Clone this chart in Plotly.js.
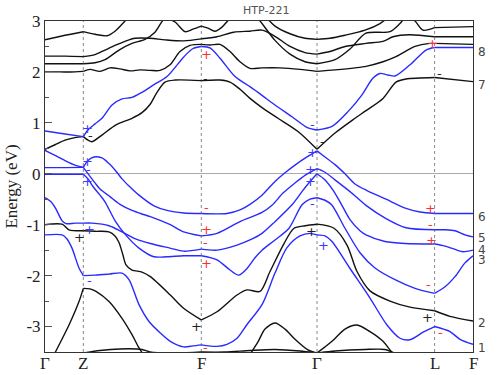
<!DOCTYPE html>
<html>
<head>
<meta charset="utf-8">
<script src="https://cdn.plot.ly/plotly-3.0.1.min.js"></script>
<style>
  html, body { margin: 0; padding: 0; background: #fff; }
  #chart { width: 500px; height: 375px; }
</style>
</head>
<body>
<div id="chart"></div>
<script>
// high symmetry points along the k path
const K_SYM = [0, 0.383, 1.563, 2.72, 3.896, 4.28];
const K_LABELS = ['Γ', 'Z', 'F', 'Γ', 'L', 'F'];
const Y_TICKS = [-3, -2, -1, 0, 1, 2, 3];

// conduction bands
const c7K = [0, 0.1, 0.2, 0.3, 0.383, 0.43, 0.47, 0.57, 0.71, 0.87, 0.97, 1.05, 1.12, 1.2, 1.3, 1.563, 1.75, 1.85, 1.95, 2.05, 2.17, 2.33, 2.53, 2.72, 2.9, 3.1, 3.21, 3.38, 3.51, 3.61, 3.896, 4.28];
const c7E = [0.48, 0.57, 0.66, 0.71, 0.73, 0.66, 0.63, 0.76, 0.96, 1.09, 1.2, 1.36, 1.6, 1.8, 1.84, 1.83, 1.84, 1.8, 1.66, 1.48, 1.3, 1.09, 0.83, 0.48, 0.8, 1.09, 1.24, 1.48, 1.8, 1.86, 1.89, 1.81];

const c8K = [0, 0.2, 0.383, 0.43, 0.5, 0.57, 0.67, 0.77, 0.87, 0.97, 1.09, 1.22, 1.39, 1.48, 1.563, 1.65, 1.75, 1.9, 2.05, 2.17, 2.3, 2.47, 2.63, 2.72, 2.87, 3.03, 3.17, 3.28, 3.35, 3.43, 3.5, 3.65, 3.81, 3.896, 4.28];
const c8E = [0.84, 0.78, 0.73, 0.86, 0.98, 1.09, 1.35, 1.47, 1.5, 1.6, 1.75, 1.91, 2.3, 2.46, 2.5, 2.47, 2.27, 1.91, 1.71, 1.54, 1.35, 1.12, 0.9, 0.86, 0.93, 1.22, 1.55, 1.88, 1.97, 1.94, 1.92, 2.14, 2.43, 2.48, 2.48];

const u1K = [0, 0.2, 0.383, 0.5, 0.62, 0.7, 0.8, 0.9];
const u1E = [2.63, 2.72, 2.79, 2.74, 2.71, 2.8, 3.0, 3.2];

const u2K = [0, 0.2, 0.383, 0.5, 0.6, 0.7, 0.8, 0.9, 1.05, 1.2, 1.386, 1.563, 1.72, 1.887, 2.05, 2.17, 2.3, 2.45, 2.6, 2.72, 2.85, 3.0, 3.21, 3.38, 3.48, 3.646, 3.896, 4.28];
const u2E = [2.31, 2.31, 2.3, 2.34, 2.43, 2.52, 2.6, 2.66, 2.66, 2.63, 2.61, 2.65, 2.69, 2.78, 2.8, 2.82, 2.7, 2.5, 2.38, 2.35, 2.4, 2.5, 2.56, 2.6, 2.69, 2.73, 2.69, 2.69];

const u3K = [0, 0.2, 0.383, 0.5, 0.6, 0.74, 0.87, 1.0, 1.1, 1.2, 1.3, 1.4, 1.48, 1.563, 1.63, 1.7, 1.77, 1.85, 1.95, 2.05, 2.13, 2.3, 2.45, 2.6, 2.72, 2.9, 3.05, 3.21, 3.45, 3.55, 3.62, 3.7, 3.78, 3.896, 4.28];
const u3E = [2.16, 2.16, 2.16, 2.18, 2.24, 2.43, 2.56, 2.64, 2.78, 3.05, 2.98, 2.79, 2.84, 2.9, 2.86, 2.8, 2.88, 3.05, 3.2, 3.2, 3.05, 2.62, 2.35, 2.2, 2.16, 2.24, 2.45, 2.76, 2.79, 2.95, 3.1, 3.0, 2.82, 2.87, 2.89];

const u4K = [0, 0.15, 0.3, 0.383, 0.45, 0.55, 0.65, 0.75, 0.85, 0.95, 1.05, 1.15, 1.25, 1.35, 1.45, 1.563, 1.65, 1.75, 1.85, 1.95, 2.05, 2.17, 2.35, 2.55, 2.72, 2.9, 3.1, 3.21, 3.38, 3.51, 3.7, 3.846, 3.896, 4.28];
const u4E = [2.0, 2.0, 2.0, 2.01, 2.05, 2.01, 2.08, 2.06, 2.02, 2.04, 2.03, 2.03, 2.14, 2.4, 2.52, 2.54, 2.53, 2.54, 2.4, 2.2, 2.07, 2.08, 2.08, 2.05, 2.01, 2.04, 2.08, 2.11, 2.2, 2.3, 2.5, 2.56, 2.56, 2.54];

const u5K = [2.2, 2.3, 2.45, 2.6, 2.72, 2.85, 3.0, 3.2, 3.35, 3.45];
const u5E = [3.1, 2.9, 2.75, 2.66, 2.64, 2.66, 2.72, 2.82, 2.95, 3.1];

// valence bands
const vAK = [0, 0.2, 0.383, 0.43, 0.49, 0.57, 0.64, 0.71, 0.77, 0.84, 0.94, 1.09, 1.22, 1.386, 1.563, 1.82, 1.95, 2.05, 2.17, 2.3, 2.4, 2.5, 2.62, 2.72, 2.8, 2.9, 3.0, 3.1, 3.22, 3.41, 3.61, 3.75, 3.896, 4.1, 4.28];
const vAE = [0.12, 0.12, 0.125, 0.26, 0.33, 0.31, 0.2, 0.05, -0.1, -0.24, -0.42, -0.63, -0.72, -0.77, -0.78, -0.78, -0.71, -0.6, -0.42, -0.15, 0.02, 0.17, 0.33, 0.45, 0.33, 0.18, 0.0, -0.2, -0.33, -0.5, -0.68, -0.75, -0.78, -0.78, -0.78];

const vBK = [0, 0.1, 0.2, 0.3, 0.383, 0.45, 0.5, 0.55, 0.65, 0.75, 0.87, 0.97, 1.053, 1.253, 1.386, 1.563, 1.72, 1.95, 2.17, 2.27, 2.38, 2.5, 2.6, 2.72, 2.8, 2.9, 3.05, 3.21, 3.41, 3.61, 3.896, 4.0, 4.1, 4.2, 4.28];
const vBE = [0.46, 0.36, 0.26, 0.17, 0.125, -0.05, -0.18, -0.3, -0.45, -0.6, -0.72, -0.79, -0.84, -1.0, -1.14, -1.22, -1.17, -0.94, -0.76, -0.62, -0.38, -0.18, -0.03, 0.1, 0.03, -0.12, -0.35, -0.62, -0.88, -1.06, -1.1, -1.1, -1.12, -1.2, -1.24];

const vCK = [0, 0.2, 0.383, 0.43, 0.48, 0.55, 0.6, 0.706, 0.806, 0.94, 1.09, 1.22, 1.386, 1.563, 1.72, 1.85, 1.937, 2.02, 2.1, 2.17, 2.3, 2.44, 2.57, 2.65, 2.72, 2.8, 2.866, 3.0, 3.15, 3.3, 3.5, 3.7, 3.896, 4.0, 4.1, 4.2, 4.28];
const vCE = [-0.01, -0.01, -0.01, -0.1, -0.25, -0.42, -0.55, -0.94, -1.2, -1.46, -1.63, -1.63, -1.61, -1.61, -1.69, -1.89, -1.99, -1.86, -1.65, -1.5, -1.3, -1.07, -0.61, -0.5, -0.47, -0.52, -0.61, -1.07, -1.55, -1.85, -2.08, -2.25, -2.35, -2.22, -2.02, -1.75, -1.61];

const vDK = [0, 0.06, 0.106, 0.17, 0.21, 0.3, 0.383, 0.47, 0.64, 0.77, 0.906, 1.053, 1.25, 1.386, 1.563, 1.72, 1.92, 2.05, 2.17, 2.3, 2.47, 2.57, 2.63, 2.72, 2.8, 2.88, 2.95, 3.05, 3.15, 3.21, 3.4, 3.6, 3.896, 4.0, 4.12, 4.18, 4.28];
const vDE = [-0.47, -0.55, -0.68, -0.92, -0.98, -0.97, -0.97, -0.97, -1.02, -1.14, -1.28, -1.37, -1.46, -1.52, -1.48, -1.5, -1.4, -1.3, -1.17, -0.94, -0.61, -0.35, -0.2, 0.0, -0.12, -0.32, -0.55, -0.9, -1.12, -1.2, -1.33, -1.37, -1.38, -1.42, -1.5, -1.53, -1.5];

const vEK = [0, 0.17, 0.22, 0.27, 0.34, 0.383, 0.5, 0.64, 0.77, 0.84, 0.94, 1.04, 1.15, 1.253, 1.386, 1.48, 1.563, 1.72, 1.82, 1.92, 2.02, 2.17, 2.3, 2.42, 2.55, 2.65, 2.72, 2.8, 2.87, 3.05, 3.25, 3.42, 3.55, 3.65, 3.79, 3.896, 4.05, 4.15, 4.28];
const vEE = [-1.2, -1.2, -1.28, -1.46, -1.85, -2.0, -1.99, -1.97, -1.95, -2.08, -2.57, -2.9, -3.12, -3.29, -3.4, -3.38, -3.36, -3.39, -3.35, -3.23, -2.96, -2.57, -1.95, -1.45, -1.22, -1.17, -1.2, -1.22, -1.33, -1.86, -2.44, -2.97, -3.23, -3.26, -3.1, -3.0, -3.1, -3.25, -3.35];

const kYK = [0, 0.17, 0.24, 0.383, 0.5, 0.64, 0.7, 0.74, 0.78, 0.81, 0.87, 0.97, 1.053, 1.253, 1.386, 1.563, 1.72, 1.92, 2.02, 2.15, 2.25, 2.39, 2.49, 2.6, 2.72, 2.89, 3.02, 3.12, 3.25, 3.45, 3.65, 3.896, 4.05, 4.28];
const kYE = [-1.0, -0.99, -1.1, -1.12, -1.13, -1.14, -1.22, -1.35, -1.6, -1.79, -1.89, -1.93, -2.02, -2.38, -2.64, -2.87, -2.71, -2.38, -2.28, -2.31, -1.92, -1.37, -1.07, -1.02, -0.99, -1.07, -1.4, -1.92, -2.3, -2.5, -2.62, -2.69, -2.8, -2.89];

const kZK = [0, 0.107, 0.24, 0.34, 0.383, 0.45, 0.51, 0.64, 0.77, 0.87, 0.94, 1.0, 1.1];
const kZE = [-3.9, -3.49, -2.97, -2.51, -2.25, -2.26, -2.31, -2.51, -2.84, -3.16, -3.42, -3.6, -3.9];

const kHK = [1.98, 2.05, 2.133, 2.2, 2.3, 2.4, 2.5, 2.63, 2.72, 2.8, 2.87, 3.0, 3.12, 3.25, 3.38, 3.45, 3.55];
const kHE = [-3.8, -3.55, -3.29, -3.05, -2.93, -3.05, -3.25, -3.46, -3.52, -3.4, -3.29, -3.05, -2.97, -3.1, -3.29, -3.46, -3.7];

const kBK = [0, 0.2, 0.383, 0.55, 0.75, 0.97, 1.05, 1.3, 1.563, 1.8, 2.05, 2.3, 2.55, 2.72, 2.9, 3.2, 3.4, 3.48, 3.6, 3.896, 4.28];
const kBE = [-3.6, -3.55, -3.52, -3.47, -3.44, -3.45, -3.5, -3.52, -3.5, -3.5, -3.47, -3.45, -3.48, -3.52, -3.48, -3.45, -3.45, -3.51, -3.55, -3.55, -3.55];

// parity marks
const MARK_K = [0.42, 0.456, 0.42, 0.43, 0.42, 0.44, 0.34, 0.44, 1.61, 1.6, 1.61, 1.61, 1.6, 1.61, 1.51, 1.6, 2.67, 2.77, 2.67, 2.65, 2.73, 2.65, 2.67, 2.66, 2.78, 3.87, 3.94, 3.85, 3.85, 3.86, 3.83, 3.82, 3.95];
const MARK_E = [0.89, 0.75, 0.25, 0.08, -0.15, -1.09, -1.25, -2.1, 2.35, 1.88, -0.66, -1.1, -1.35, -1.77, -3.0, -3.41, 0.96, 0.64, 0.41, 0.08, 0.1, -0.15, -0.58, -1.14, -1.4, 2.56, 1.97, -0.68, -0.99, -1.32, -2.18, -2.82, -3.12];
const MARK_SIGN = ['+', '-', '+', '-', '+', '+', '+', '-', '+', '-', '-', '+', '-', '+', '+', '-', '-', '-', '+', '+', '-', '+', '-', '+', '+', '+', '-', '+', '-', '+', '-', '+', '-'];
const MARK_KIND = ['b', 'k', 'b', 'b', 'b', 'b', 'k', 'b', 'r', 'k', 'r', 'r', 'r', 'r', 'k', 'r', 'b', 'k', 'b', 'b', 'b', 'b', 'b', 'k', 'b', 'r', 'k', 'r', 'r', 'r', 'r', 'k', 'r'];

// band numbers on the right edge
const BAND_NUM = ['1', '2', '3', '4', '5', '6', '7', '8'];
const BAND_NUM_E = [-3.42, -2.93, -1.69, -1.5, -1.27, -0.84, 1.75, 2.4];

const BLUE = '#2a2aff';
const BLACK = '#111111';
const MARK_COLORS = { r: '#ff3030', b: '#3a3aff', k: '#222222' };

const BANDS = [
    { k: u1K, e: u1E, color: BLACK },
    { k: u2K, e: u2E, color: BLACK },
    { k: u3K, e: u3E, color: BLACK },
    { k: u4K, e: u4E, color: BLACK },
    { k: u5K, e: u5E, color: BLACK },
    { k: c7K, e: c7E, color: BLACK },
    { k: kYK, e: kYE, color: BLACK },
    { k: kZK, e: kZE, color: BLACK },
    { k: kHK, e: kHE, color: BLACK },
    { k: kBK, e: kBE, color: BLACK },
    { k: c8K, e: c8E, color: BLUE },
    { k: vAK, e: vAE, color: BLUE },
    { k: vBK, e: vBE, color: BLUE },
    { k: vCK, e: vCE, color: BLUE },
    { k: vDK, e: vDE, color: BLUE },
    { k: vEK, e: vEE, color: BLUE }
];

// cut a band at the high symmetry points so kinks there stay sharp
function splitBand(k, e) {
    const pieces = [];
    for (let s = 0; s < K_SYM.length - 1; s++) {
        const a = K_SYM[s] - 1e-6, b = K_SYM[s + 1] + 1e-6;
        const xs = [], ys = [];
        k.forEach((kv, i) => {
            if (kv >= a && kv <= b) { xs.push(kv); ys.push(e[i]); }
        });
        if (xs.length > 1) pieces.push({ x: xs, y: ys });
    }
    return pieces;
}

const traces = [];
BANDS.forEach(band => {
    splitBand(band.k, band.e).forEach(p => {
        traces.push({
            type: 'scatter',
            mode: 'lines',
            x: p.x,
            y: p.y,
            line: { color: band.color, width: 1.4, shape: 'spline', smoothing: 0.8 },
            hoverinfo: 'skip',
            showlegend: false
        });
    });
});

const serif = 'Liberation Serif, DejaVu Serif, serif';

const annotations = MARK_K.map((kv, i) => ({
    x: kv, y: MARK_E[i], xref: 'x', yref: 'y',
    text: MARK_SIGN[i], showarrow: false,
    font: { family: 'DejaVu Sans', size: 13, color: MARK_COLORS[MARK_KIND[i]] }
}));

BAND_NUM.forEach((t, i) => {
    annotations.push({
        x: 1, y: BAND_NUM_E[i], xref: 'paper', yref: 'y',
        xanchor: 'left', xshift: 3, text: t, showarrow: false,
        font: { family: 'DejaVu Sans', size: 12, color: '#444' }
    });
});

// k-point names under the axis
K_SYM.forEach((kv, i) => {
    annotations.push({
        x: kv, y: 0, xref: 'x', yref: 'paper',
        xanchor: 'center', yanchor: 'top', yshift: 0,
        text: K_LABELS[i], showarrow: false,
        font: { family: serif, size: 17, color: '#222' }
    });
});

const shapes = K_SYM.slice(1, -1).map(kv => ({
    type: 'line', xref: 'x', yref: 'paper', x0: kv, x1: kv, y0: 0, y1: 1,
    line: { color: '#888', width: 1, dash: 'dot' }, layer: 'below'
}));

const layout = {
    width: 500,
    height: 375,
    margin: { l: 45, r: 27, t: 21, b: 23 },
    paper_bgcolor: '#fff',
    plot_bgcolor: '#fff',
    title: {
        text: 'HTP-221',
        x: 0.517, xref: 'paper', xanchor: 'center',
        y: 0.973, yref: 'container', yanchor: 'middle',
        font: { family: 'DejaVu Sans', size: 11, color: '#555' }
    },
    xaxis: {
        range: [0, 4.28],
        tickmode: 'array',
        tickvals: K_SYM,
        showticklabels: false,
        ticks: '',
        showgrid: false,
        zeroline: false,
        showline: true,
        mirror: true,
        linecolor: '#333',
        linewidth: 1
    },
    yaxis: {
        range: [-3.5, 3],
        tickmode: 'array',
        tickvals: Y_TICKS,
        ticktext: Y_TICKS.map(v => String(v)),
        ticks: 'inside',
        ticklen: 7,
        tickcolor: '#555',
        minor: { tickmode: 'linear', tick0: 0, dtick: 0.5, ticks: 'inside', ticklen: 4, tickcolor: '#555' },
        showgrid: false,
        zeroline: true,
        zerolinecolor: '#aaa',
        zerolinewidth: 1.2,
        showline: true,
        mirror: true,
        linecolor: '#333',
        linewidth: 1,
        tickfont: { family: serif, size: 17, color: '#222' },
        title: { text: 'Energy (eV)', font: { family: serif, size: 17, color: '#222' }, standoff: 4 }
    },
    shapes: shapes,
    annotations: annotations
};

Plotly.newPlot('chart', traces, layout, { staticPlot: true, displayModeBar: false });
</script>
</body>
</html>
